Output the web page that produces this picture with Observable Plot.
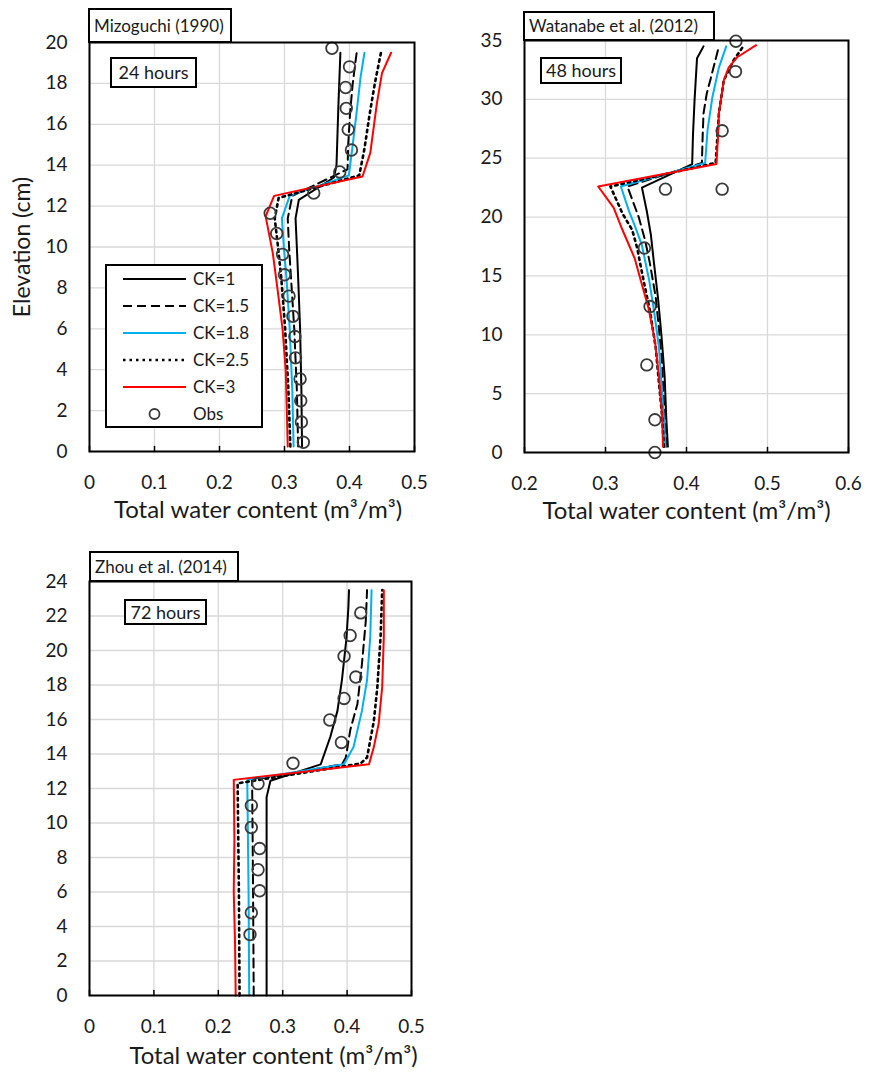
<!DOCTYPE html>
<html>
<head>
<meta charset="utf-8">
<script src="https://cdn.jsdelivr.net/npm/d3@7"></script>
<script src="https://cdn.jsdelivr.net/npm/@observablehq/plot@0.6"></script>
<style>
  body { margin: 0; background: #fff; }
  #fig { position: relative; width: 869px; height: 1072px; font-family: Lato, "Open Sans", sans-serif; color: #1a1a1a; overflow: hidden; }
  .panel { position: absolute; }
  .tag { position: absolute; box-sizing: border-box; border: 2px solid #000; background: #fff; font-size: 17px; white-space: nowrap; }
  .tag.title { padding-left: 4px; text-align: left; }
  .tag.hours { text-align: center; font-size: 18px; }
  .legend { position: absolute; box-sizing: border-box; border: 2px solid #000; background: #fff; }
</style>
</head>
<body>
<div id="fig"></div>
<script>
// ---- Series definitions (legend order) ----
const seriesNames  = ["CK=1", "CK=1.5", "CK=1.8", "CK=2.5", "CK=3"];
const seriesStroke = ["#000000", "#000000", "#00b0f0", "#000000", "#ff0000"];
const seriesDash   = [null, "9,5", null, "2.5,4", null];
const obsName = "Obs";

// ---- Mizoguchi (1990), 24 hours: [total water content, elevation cm] ----
const mizoCK1  = [[0.327,0.25],[0.326,3],[0.324,6],[0.321,8.5],[0.319,10],[0.317,11.4],[0.322,12.3],[0.376,13.4],[0.380,14],[0.383,17],[0.386,19.5]];
const mizoCK15 = [[0.321,0.25],[0.319,3],[0.315,6],[0.310,8.5],[0.307,10],[0.305,11.4],[0.312,12.5],[0.397,13.8],[0.398,15],[0.401,16.6],[0.405,18],[0.411,19.5]];
const mizoCK18 = [[0.314,0.25],[0.312,3],[0.308,6],[0.303,8.5],[0.299,10],[0.296,11.4],[0.308,12.5],[0.399,13.5],[0.405,15],[0.411,16.6],[0.417,18.3],[0.423,19.5]];
const mizoCK25 = [[0.309,0.25],[0.306,3],[0.301,6],[0.295,8.5],[0.290,10],[0.285,11.4],[0.291,12.4],[0.415,13.5],[0.423,14.8],[0.431,16.5],[0.439,18],[0.449,19.6]];
const mizoCK3  = [[0.305,0.25],[0.302,3.9],[0.297,6],[0.289,8],[0.282,9.7],[0.271,11.5],[0.284,12.5],[0.420,13.45],[0.432,14.6],[0.442,17],[0.450,18.5],[0.464,19.5]];
const mizoObs  = [[0.373,19.72],[0.400,18.81],[0.394,17.80],[0.395,16.78],[0.398,15.74],[0.403,14.74],[0.385,13.67],[0.345,12.64],[0.278,11.65],[0.288,10.66],[0.297,9.64],[0.300,8.64],[0.307,7.60],[0.313,6.61],[0.316,5.62],[0.317,4.58],[0.324,3.55],[0.325,2.48],[0.326,1.44],[0.329,0.45]];

// ---- Watanabe et al. (2012), 48 hours ----
const wataCK1  = [[0.377,0.5],[0.375,3],[0.373,6.5],[0.369,10],[0.365,13],[0.360,16],[0.356,18.5],[0.351,20.5],[0.345,22.5],[0.407,24.5],[0.408,27],[0.410,30],[0.413,33.5],[0.421,34.5]];
const wataCK15 = [[0.375,0.5],[0.373,3],[0.370,7.5],[0.366,10.5],[0.362,13.2],[0.355,16],[0.349,18],[0.341,20],[0.327,22.6],[0.419,24.6],[0.420,27],[0.421,28.8],[0.425,30.5],[0.430,31.8],[0.440,34.5]];
const wataCK18 = [[0.374,0.5],[0.372,3],[0.366,8.9],[0.360,12],[0.354,14.6],[0.345,17.6],[0.336,19.3],[0.329,20.5],[0.319,22.6],[0.423,24.6],[0.426,27.4],[0.432,30.2],[0.440,32.7],[0.449,34.5]];
const wataCK25 = [[0.372,0.5],[0.370,3],[0.362,8.9],[0.355,12],[0.347,14.6],[0.339,17.4],[0.333,18.9],[0.321,20.3],[0.306,22.6],[0.436,24.6],[0.440,28.8],[0.446,31.6],[0.458,33.3],[0.471,34.6]];
const wataCK3  = [[0.371,0.5],[0.370,3],[0.366,6.5],[0.361,9.5],[0.353,12.3],[0.344,14.5],[0.336,16.5],[0.321,18.9],[0.310,20.8],[0.291,22.6],[0.437,24.5],[0.439,27],[0.440,28.8],[0.446,31.6],[0.452,32.7],[0.463,33.6],[0.486,34.6]];
const wataObs  = [[0.461,34.94],[0.4605,32.36],[0.444,27.33],[0.374,22.37],[0.444,22.37],[0.348,17.37],[0.355,12.40],[0.351,7.44],[0.361,2.78],[0.361,0.0]];

// ---- Zhou et al. (2014), 72 hours ----
const zhouCK1  = [[0.275,0],[0.275,6],[0.275,11.5],[0.281,12.45],[0.359,13.4],[0.374,15],[0.385,16.5],[0.392,18.3],[0.399,20.7],[0.402,22.5],[0.403,23.5]];
const zhouCK15 = [[0.255,0],[0.254,6],[0.2525,12.5],[0.392,13.4],[0.398,13.8],[0.405,15.4],[0.416,16.9],[0.423,19.2],[0.429,21.7],[0.431,23.5]];
const zhouCK18 = [[0.248,0],[0.247,6],[0.245,12.5],[0.395,13.4],[0.410,14.4],[0.423,16.5],[0.431,18.3],[0.436,20.8],[0.438,23.5]];
const zhouCK25 = [[0.233,0],[0.232,6],[0.230,12.3],[0.421,13.45],[0.431,13.8],[0.4415,15.9],[0.447,17.9],[0.452,20.8],[0.4545,23.5]];
const zhouCK3  = [[0.227,0],[0.226,3],[0.224,6],[0.225,9],[0.224,12.5],[0.434,13.4],[0.4415,14.4],[0.449,15.75],[0.4545,17.9],[0.457,20.8],[0.457,23.5]];
const zhouObs  = [[0.4212,22.18],[0.4047,20.87],[0.3953,19.67],[0.4135,18.46],[0.3953,17.22],[0.3731,15.97],[0.3912,14.67],[0.316,13.46],[0.2617,12.28],[0.2513,11.01],[0.2513,9.74],[0.2642,8.52],[0.2617,7.29],[0.2642,6.07],[0.2513,4.80],[0.2492,3.53]];

// ---- Axis ticks ----
const xTicksA = [0, 0.1, 0.2, 0.3, 0.4, 0.5];
const xTicksB = [0.2, 0.3, 0.4, 0.5, 0.6];
const yTicksMizo = [0, 2, 4, 6, 8, 10, 12, 14, 16, 18, 20];
const yTicksWata = [0, 5, 10, 15, 20, 25, 30, 35];
const yTicksZhou = [0, 2, 4, 6, 8, 10, 12, 14, 16, 18, 20, 22, 24];

const xTitle = "Total water content (m\u00b3/m\u00b3)";
const yTitle = "Elevation (cm)";

const fig = document.getElementById("fig");
const fmt = d3.format("~g");
const tickShape = {draw(ctx, l) { ctx.moveTo(0, 0); ctx.lineTo(0, -l); }};

function panel(o) {
  const marks = [
    Plot.gridX(o.xTicks, {stroke: "#d9d9d9", strokeOpacity: 1, strokeWidth: 1.3}),
    Plot.gridY(o.yTicks, {stroke: "#d9d9d9", strokeOpacity: 1, strokeWidth: 1.3}),
    Plot.vector(o.xTicks, {x: d => d, frameAnchor: "bottom", length: 5, anchor: "start", rotate: 0, shape: tickShape, stroke: "#000", strokeWidth: 1.5}),
    Plot.axisX(o.xTicks, {tickSize: 0, tickPadding: 24, fontSize: 19, tickFormat: fmt, label: null}),
    Plot.axisY(o.yTicks, {tickSize: 0, tickPadding: 22, fontSize: 19, tickFormat: fmt, label: null}),
  ];
  o.series.forEach((pts, i) => {
    marks.push(Plot.line(pts, {
      x: d => d[0], y: d => d[1],
      stroke: seriesStroke[i], strokeWidth: i === 3 ? 2.6 : 2,
      strokeDasharray: seriesDash[i] ?? undefined
    }));
  });
  marks.push(Plot.dot(o.obs, {x: d => d[0], y: d => d[1], r: 5.8, stroke: "#3a3a3a", strokeWidth: 1.8, fill: "none"}));
  marks.push(Plot.frame({stroke: "#000", strokeWidth: 2}));
  marks.push(Plot.text([xTitle], {frameAnchor: "bottom", textAnchor: "middle", lineAnchor: "middle",
    dy: o.titleDy, dx: o.titleDx, fontSize: 24, fill: "#1a1a1a"}));
  if (o.yLabel) {
    marks.push(Plot.text([o.yLabel], {frameAnchor: "left", textAnchor: "middle", lineAnchor: "middle",
      dx: -67, rotate: -90, fontSize: 23, fill: "#1a1a1a"}));
  }
  const svg = Plot.plot({
    width: o.width, height: o.height,
    marginLeft: o.m[0], marginRight: o.m[1], marginTop: o.m[2], marginBottom: o.m[3],
    x: {domain: o.xDomain, axis: null},
    y: {domain: o.yDomain, axis: null},
    style: {fontFamily: "Lato, 'Open Sans', sans-serif", color: "#1a1a1a", background: "transparent", overflow: "visible"},
    marks
  });
  const div = document.createElement("div");
  div.className = "panel";
  div.style.left = o.left + "px";
  div.style.top = o.top + "px";
  div.appendChild(svg);
  fig.appendChild(div);
}

panel({left: 0, top: 0, width: 440, height: 530, m: [89, 26, 42, 79],
  xDomain: [0, 0.5], yDomain: [0, 20], xTicks: xTicksA, yTicks: yTicksMizo,
  series: [mizoCK1, mizoCK15, mizoCK18, mizoCK25, mizoCK3], obs: mizoObs,
  titleDy: 59, titleDx: 6, yLabel: yTitle});

panel({left: 440, top: 0, width: 429, height: 530, m: [84, 21, 40, 78],
  xDomain: [0.2, 0.6], yDomain: [0, 35], xTicks: xTicksB, yTicks: yTicksWata,
  series: [wataCK1, wataCK15, wataCK18, wataCK25, wataCK3], obs: wataObs,
  titleDy: 59, titleDx: 0});

panel({left: 0, top: 540, width: 440, height: 532, m: [89, 29, 41, 77],
  xDomain: [0, 0.5], yDomain: [0, 24], xTicks: xTicksA, yTicks: yTicksZhou,
  series: [zhouCK1, zhouCK15, zhouCK18, zhouCK25, zhouCK3], obs: zhouObs,
  titleDy: 61, titleDx: 23});

// ---- Boxed labels ----
function tag(text, cls, left, top, width, height) {
  const d = document.createElement("div");
  d.className = "tag " + cls;
  Object.assign(d.style, {left: left + "px", top: top + "px", width: width + "px", height: height + "px", lineHeight: (height - 4) + "px"});
  d.textContent = text;
  fig.appendChild(d);
}
tag("Mizoguchi (1990)", "title", 88, 8, 144, 35);
tag("Watanabe et al. (2012)", "title", 523, 11, 192, 30);
tag("Zhou et al. (2014)", "title", 89, 551, 150, 31);
tag("24 hours", "hours", 110, 57, 87, 31);
tag("48 hours", "hours", 540, 57, 82, 27);
tag("72 hours", "hours", 124, 599, 83, 26);

// ---- Legend (first panel) ----
const leg = document.createElement("div");
leg.className = "legend";
Object.assign(leg.style, {left: "105px", top: "264px", width: "158px", height: "164px"});
const lsvg = d3.create("svg").attr("width", 154).attr("height", 160)
  .style("position", "absolute").style("left", "0px").style("top", "0px")
  .style("font-family", "Lato, 'Open Sans', sans-serif");
const rowY = i => 13 + 27 * i;
seriesNames.forEach((name, i) => {
  const l = lsvg.append("line").attr("x1", 16).attr("x2", 79).attr("y1", rowY(i)).attr("y2", rowY(i))
    .attr("stroke", seriesStroke[i]).attr("stroke-width", i === 3 ? 2.6 : 2);
  if (seriesDash[i]) l.attr("stroke-dasharray", seriesDash[i]);
  lsvg.append("text").attr("x", 86).attr("y", rowY(i)).attr("dy", "0.35em")
    .attr("font-size", 17).attr("fill", "#1a1a1a").text(name);
});
lsvg.append("circle").attr("cx", 47.5).attr("cy", rowY(5)).attr("r", 5)
  .attr("fill", "none").attr("stroke", "#3a3a3a").attr("stroke-width", 1.8);
lsvg.append("text").attr("x", 86).attr("y", rowY(5)).attr("dy", "0.35em")
  .attr("font-size", 17).attr("fill", "#1a1a1a").text(obsName);
leg.appendChild(lsvg.node());
fig.appendChild(leg);
</script>
</body>
</html>
